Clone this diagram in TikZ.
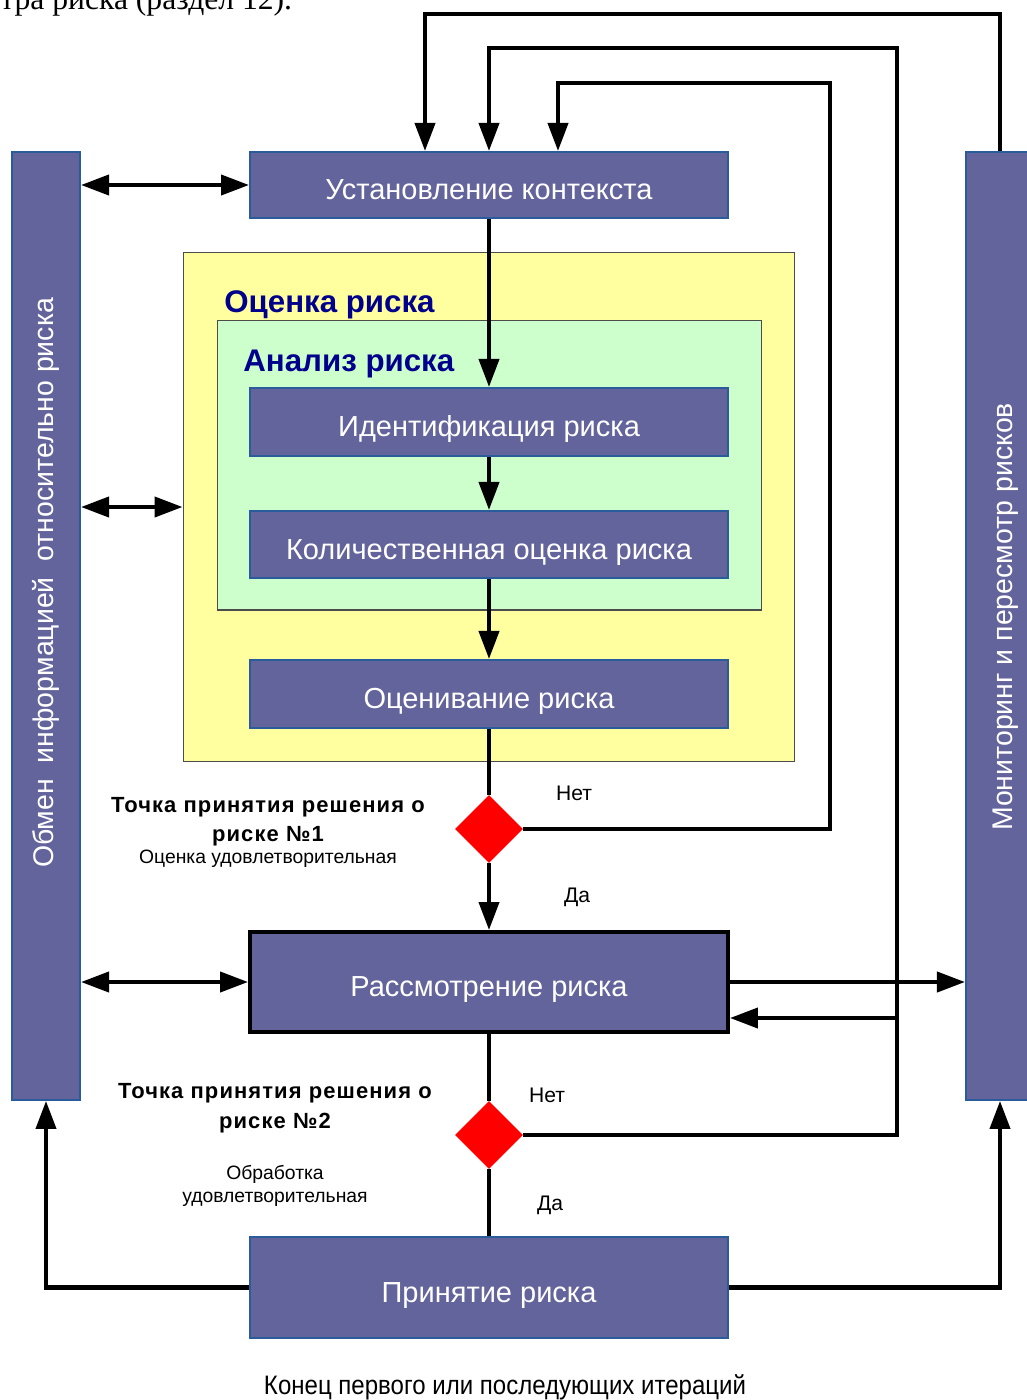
\documentclass[tikz,border=0pt]{standalone}
\usepackage{fontspec}
\setmainfont{Liberation Sans}
\newfontfamily\pageserif{Liberation Serif}
\newfontfamily\narrowsans[FakeStretch=0.9]{Liberation Sans}
\newfontfamily\pointfont[LetterSpace=5]{Liberation Sans}
\usepackage{tikz}
\usetikzlibrary{arrows.meta,positioning,shapes.geometric,calc}
\definecolor{boxpurple}{HTML}{64649C}
\definecolor{boxedge}{HTML}{2A5C9C}
\definecolor{assessyellow}{HTML}{FFFF9F}
\definecolor{analysisgreen}{HTML}{CCFFCC}
\definecolor{headblue}{HTML}{00008C}
\definecolor{decisionred}{HTML}{FF0000}
\tikzset{
  stepbox/.style={draw=boxedge,line width=1.2pt,fill=boxpurple,text=white,minimum width=9.56cm,
    text height=1.75em,text depth=0.1em,font=\fontsize{16.5}{19}\selectfont},
  sidebar/.style={draw=boxedge,line width=1.2pt,fill=boxpurple,minimum width=1.36cm,minimum height=18.96cm},
  sidetext/.style={rotate=90,text=white,font=\fontsize{16.2}{19}\selectfont},
  decision/.style={diamond,fill=decisionred,minimum width=1.36cm,minimum height=1.36cm,inner sep=0pt},
  heading/.style={anchor=base west,inner sep=0pt,text=headblue,font=\bfseries\fontsize{17.8}{20}\selectfont},
  answer/.style={font=\fontsize{12}{14}\selectfont},
  pointnote/.style={align=center,inner sep=0pt},
  flow/.style={line width=2.3pt},
  flowarrow/.style={flow,-{Triangle[length=0.56cm,width=0.4cm]}},
  twoway/.style={flow,{Triangle[length=0.56cm,width=0.4cm]}-{Triangle[length=0.56cm,width=0.4cm]}},
}
\newcommand{\titlefont}{\pointfont\bfseries\fontsize{12.5}{16}\selectfont}
\newcommand{\notefont}{\normalfont\fontsize{11}{13}\selectfont}

\begin{document}
\begin{tikzpicture}[x=0.02cm,y=-0.02cm]
  \useasboundingbox (0,0) rectangle (1027,1400);
  \node[anchor=base west,inner sep=0pt,font=\pageserif\fontsize{18}{20}\selectfont] (pagetext) at (0,9) {тра риска (раздел 12).};

  \node[draw=black!70,line width=0.6pt,fill=assessyellow,minimum width=12.24cm,minimum height=10.2cm] (assess) at (489,507) {};
  \node[draw=black!70,line width=0.6pt,fill=analysisgreen,minimum width=10.9cm,minimum height=5.8cm] (analysis) at (489.5,465) {};
  \node[heading] (assesstitle) at (224,312) {Оценка риска};
  \node[heading] (analysistitle) at (243,371) {Анализ риска};

  \node[sidebar] (infobar) at (46,626) {};
  \node[sidebar] (monitorbar) at (1000,626) {};
  \node[sidetext] (infotext) at (46,583) {Обмен\ \ информацией\ \ относительно риска};
  \node[sidetext] (monitortext) at (1006,617) {Мониторинг и пересмотр рисков};

  \node[stepbox,minimum height=1.32cm] (context) at (489,185) {Установление контекста};
  \node[stepbox,minimum height=1.36cm] (ident) at (489,422) {Идентификация риска};
  \node[stepbox,minimum height=1.34cm] (quant) at (489,544.5) {Количественная оценка риска};
  \node[stepbox,minimum height=1.36cm] (evalr) at (489,694) {Оценивание риска};
  \node[stepbox,draw=black,line width=2.3pt,minimum height=2.0cm] (treat) at (489,982) {Рассмотрение риска};
  \node[stepbox,minimum height=2.02cm] (accept) at (489,1287.5) {Принятие риска};

  \node[decision] (dec1) at (489,829) {};
  \node[decision] (dec2) at (489,1135) {};

  \node[pointnote] (note1) at (268,832) {\titlefont Точка принятия решения о\\[5pt]\titlefont риске №1\\\notefont Оценка удовлетворительная};
  \node[pointnote] (note2) at (275,1145) {\titlefont Точка принятия решения о\\[5pt]\titlefont риске №2\\[17pt]\notefont Обработка\\[1pt]\notefont удовлетворительная};

  \node[answer] (no1) at (574,793) {Нет};
  \node[answer] (yes1) at (577,897) {Да};
  \node[answer] (no2) at (547,1095) {Нет};
  \node[answer] (yes2) at (550,1205) {Да};

  \node[font=\narrowsans\fontsize{15.2}{18}\selectfont] (iterend) at (505,1387) {Конец первого или последующих итераций};

  \coordinate (loopA) at (425,14);
  \coordinate (loopB) at (897,48);
  \coordinate (loopC) at (830,83);
  \coordinate (inC) at (558,0);
  \coordinate (backin) at (897,1018);

  \draw[flowarrow] (context) -- (ident);
  \draw[flowarrow] (ident) -- (quant);
  \draw[flowarrow] (quant) -- (evalr);
  \draw[flow] (evalr) -- (dec1);
  \draw[flowarrow] (dec1) -- (treat);
  \draw[flow] (treat) -- (dec2);
  \draw[flow] (dec2) -- (accept);

  \draw[flowarrow] (monitorbar.north) |- (loopA) -- (loopA |- context.north);
  \draw[flowarrow] (dec2.east) -| (loopB) -| (context.north);
  \draw[flowarrow] (dec1.east) -| (loopC) -| (inC |- context.north);
  \draw[flowarrow] (backin) -- (backin -| treat.east);
  \draw[flowarrow] (treat.east) -- (treat.east -| monitorbar.west);

  \draw[twoway] (infobar.east |- context.west) -- (context.west);
  \draw[twoway] (infobar.east |- assess.west) -- (assess.west);
  \draw[twoway] (infobar.east |- treat.west) -- (treat.west);

  \draw[flowarrow] (accept.west) -| (infobar.south);
  \draw[flowarrow] (accept.east) -| (monitorbar.south);
\end{tikzpicture}
\end{document}
